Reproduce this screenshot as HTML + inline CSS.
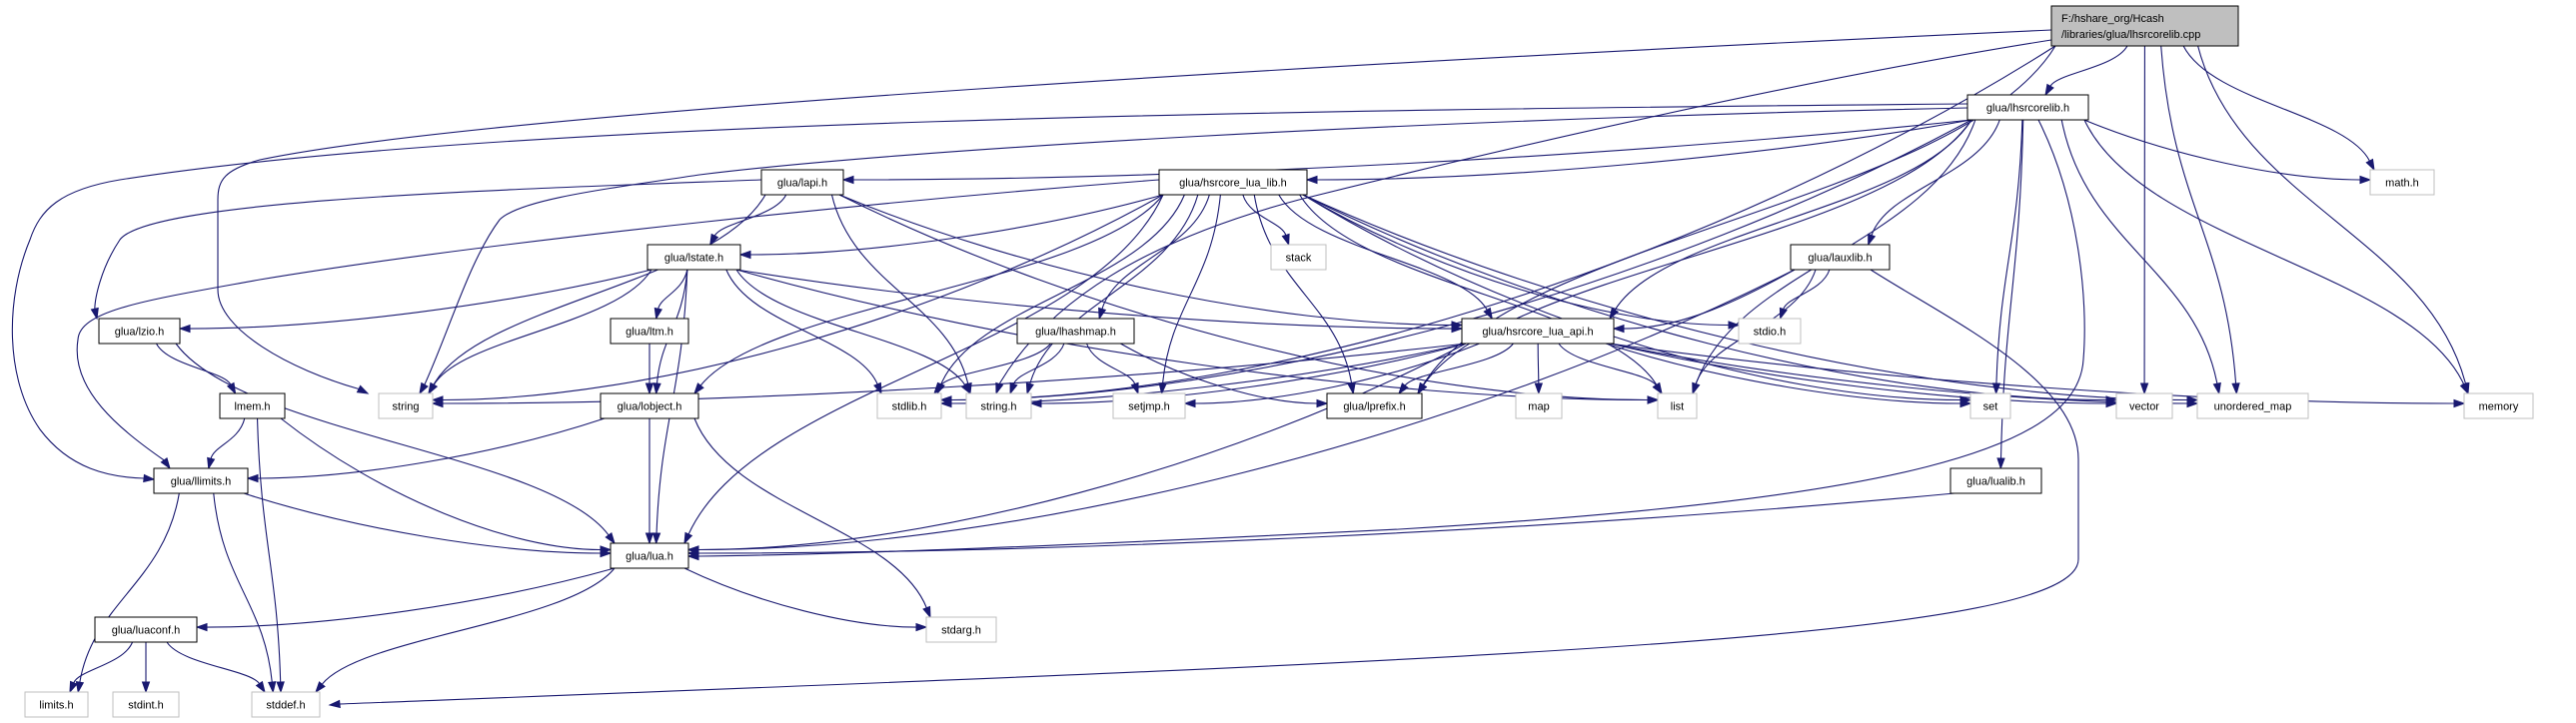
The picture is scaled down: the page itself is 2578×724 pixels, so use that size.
<!DOCTYPE html>
<html><head><meta charset="utf-8"><style>
html,body{margin:0;padding:0;background:#fff;}
svg{display:block;}
text{font-family:"Liberation Sans",sans-serif;font-size:11px;fill:#000;}
</style></head><body>
<svg id="g" width="2578" height="724" viewBox="0 0 2578 724" xmlns="http://www.w3.org/2000/svg">
<g id="edges" fill="none" stroke="#191970" stroke-width="1.1"></g>
<g id="arrows" fill="#191970" stroke="#191970"></g>
<g id="nodes">
<rect x="2053" y="6" width="187" height="40" fill="#bfbfbf" stroke="#000"/>
<text x="2063" y="22">F:/hshare_org/Hcash</text>
<text x="2063" y="38">/libraries/glua/lhsrcorelib.cpp</text>

<rect x="1969" y="95" width="121" height="25" fill="#fff" stroke="#000"/><text x="2029.5" y="111.5" text-anchor="middle">glua/lhsrcorelib.h</text>
<rect x="762" y="170" width="82" height="25" fill="#fff" stroke="#000"/><text x="803" y="186.5" text-anchor="middle">glua/lapi.h</text>
<rect x="1160" y="170" width="148" height="25" fill="#fff" stroke="#000"/><text x="1234" y="186.5" text-anchor="middle">glua/hsrcore_lua_lib.h</text>
<rect x="2372" y="170" width="64" height="25" fill="#fff" stroke="#bfbfbf"/><text x="2404" y="186.5" text-anchor="middle">math.h</text>

<rect x="648" y="245" width="93" height="25" fill="#fff" stroke="#000"/><text x="694.5" y="261.5" text-anchor="middle">glua/lstate.h</text>
<rect x="1272" y="245" width="55" height="25" fill="#fff" stroke="#bfbfbf"/><text x="1299.5" y="261.5" text-anchor="middle">stack</text>
<rect x="1792" y="245" width="99" height="25" fill="#fff" stroke="#000"/><text x="1841.5" y="261.5" text-anchor="middle">glua/lauxlib.h</text>

<rect x="99" y="319" width="81" height="25" fill="#fff" stroke="#000"/><text x="139.5" y="335.5" text-anchor="middle">glua/lzio.h</text>
<rect x="611" y="319" width="78" height="25" fill="#fff" stroke="#000"/><text x="650" y="335.5" text-anchor="middle">glua/ltm.h</text>
<rect x="1018" y="319" width="117" height="25" fill="#fff" stroke="#000"/><text x="1076.5" y="335.5" text-anchor="middle">glua/lhashmap.h</text>
<rect x="1463" y="319" width="152" height="25" fill="#fff" stroke="#000"/><text x="1539" y="335.5" text-anchor="middle">glua/hsrcore_lua_api.h</text>
<rect x="1740" y="319" width="62" height="25" fill="#fff" stroke="#bfbfbf"/><text x="1771" y="335.5" text-anchor="middle">stdio.h</text>

<rect x="220" y="394" width="65" height="25" fill="#fff" stroke="#000"/><text x="252.5" y="410.5" text-anchor="middle">lmem.h</text>
<rect x="379" y="394" width="54" height="25" fill="#fff" stroke="#bfbfbf"/><text x="406" y="410.5" text-anchor="middle">string</text>
<rect x="601" y="394" width="98" height="25" fill="#fff" stroke="#000"/><text x="650" y="410.5" text-anchor="middle">glua/lobject.h</text>
<rect x="878" y="394" width="64" height="25" fill="#fff" stroke="#bfbfbf"/><text x="910" y="410.5" text-anchor="middle">stdlib.h</text>
<rect x="967" y="394" width="65" height="25" fill="#fff" stroke="#bfbfbf"/><text x="999.5" y="410.5" text-anchor="middle">string.h</text>
<rect x="1114" y="394" width="72" height="25" fill="#fff" stroke="#bfbfbf"/><text x="1150" y="410.5" text-anchor="middle">setjmp.h</text>
<rect x="1328" y="394" width="95" height="25" fill="#fff" stroke="#000"/><text x="1375.5" y="410.5" text-anchor="middle">glua/lprefix.h</text>
<rect x="1517" y="394" width="46" height="25" fill="#fff" stroke="#bfbfbf"/><text x="1540" y="410.5" text-anchor="middle">map</text>
<rect x="1659" y="394" width="39" height="25" fill="#fff" stroke="#bfbfbf"/><text x="1678.5" y="410.5" text-anchor="middle">list</text>
<rect x="1972" y="394" width="40" height="25" fill="#fff" stroke="#bfbfbf"/><text x="1992" y="410.5" text-anchor="middle">set</text>
<rect x="2118" y="394" width="56" height="25" fill="#fff" stroke="#bfbfbf"/><text x="2146" y="410.5" text-anchor="middle">vector</text>
<rect x="2199" y="394" width="111" height="25" fill="#fff" stroke="#bfbfbf"/><text x="2254.5" y="410.5" text-anchor="middle">unordered_map</text>
<rect x="2466" y="394" width="69" height="25" fill="#fff" stroke="#bfbfbf"/><text x="2500.5" y="410.5" text-anchor="middle">memory</text>

<rect x="154" y="469" width="94" height="25" fill="#fff" stroke="#000"/><text x="201" y="485.5" text-anchor="middle">glua/llimits.h</text>
<rect x="1952" y="469" width="91" height="25" fill="#fff" stroke="#000"/><text x="1997.5" y="485.5" text-anchor="middle">glua/lualib.h</text>

<rect x="611" y="544" width="78" height="25" fill="#fff" stroke="#000"/><text x="650" y="560.5" text-anchor="middle">glua/lua.h</text>

<rect x="95" y="618" width="102" height="25" fill="#fff" stroke="#000"/><text x="146" y="634.5" text-anchor="middle">glua/luaconf.h</text>
<rect x="927" y="618" width="70" height="25" fill="#fff" stroke="#bfbfbf"/><text x="962" y="634.5" text-anchor="middle">stdarg.h</text>

<rect x="25" y="693" width="63" height="25" fill="#fff" stroke="#bfbfbf"/><text x="56.5" y="709.5" text-anchor="middle">limits.h</text>
<rect x="113" y="693" width="66" height="25" fill="#fff" stroke="#bfbfbf"/><text x="146" y="709.5" text-anchor="middle">stdint.h</text>
<rect x="252" y="693" width="68" height="25" fill="#fff" stroke="#bfbfbf"/><text x="286" y="709.5" text-anchor="middle">stddef.h</text>
</g>
</svg>
<script>
var N={
F:[2053,6,2240,46],core:[1969,95,2090,120],lapi:[762,170,844,195],lib:[1160,170,1308,195],math:[2372,170,2436,195],
lstate:[648,245,741,270],stack:[1272,245,1327,270],aux:[1792,245,1891,270],
lzio:[99,319,180,344],ltm:[611,319,689,344],hmap:[1018,319,1135,344],api:[1463,319,1615,344],stdio:[1740,319,1802,344],
lmem:[220,394,285,419],string:[379,394,433,419],lobject:[601,394,699,419],stdlib:[878,394,942,419],stringh:[967,394,1032,419],
setjmp:[1114,394,1186,419],lprefix:[1328,394,1423,419],map:[1517,394,1563,419],list:[1659,394,1698,419],set:[1972,394,2012,419],
vector:[2118,394,2174,419],umap:[2199,394,2310,419],memory:[2466,394,2535,419],
llimits:[154,469,248,494],lualib:[1952,469,2043,494],lua:[611,544,689,569],luaconf:[95,618,197,643],stdarg:[927,618,997,643],
limits:[25,693,88,718],stdint:[113,693,179,718],stddef:[252,693,320,718]};
var E=[
['F','core'],['F','stdlib'],['F','lprefix'],['F','math'],['F','vector'],['F','umap'],['F','memory'],
['core','lapi'],['core','lib'],['core','stdlib'],['core','api'],['core','aux'],['core','lprefix'],['core','list'],
['core','set'],['core','math'],['core','umap'],['core','memory'],['core','lualib'],
['lapi','lstate'],['lapi','string'],['lapi','stringh'],['lapi','api'],['lapi','list'],
['lib','lstate'],['lib','string'],['lib','stdlib'],['lib','stringh'],['lib','setjmp'],['lib','hmap'],['lib','lobject'],['lib','lua'],
['lib','stack'],['lib','lprefix'],['lib','api'],['lib','list'],['lib','set'],['lib','vector'],['lib','umap'],['lib','stdio'],
['lstate','lzio'],['lstate','ltm'],['lstate','lobject'],['lstate','lua'],['lstate','string'],['lstate','stringh'],['lstate','api'],['lstate','list'],['lstate','stdlib'],
['aux','stdio'],['aux','list'],['aux','lua'],['aux','api'],
['lzio','lmem'],['lzio','lua'],['ltm','lobject'],
['hmap','stdlib'],['hmap','stringh'],['hmap','setjmp'],['hmap','lprefix'],
['api','string'],['api','stdlib'],['api','stringh'],['api','setjmp'],['api','lprefix'],['api','map'],['api','list'],['api','set'],
['api','vector'],['api','umap'],['api','memory'],['api','lua'],
['lmem','llimits'],['lmem','lua'],['lmem','stddef'],
['lobject','llimits'],['lobject','lua'],['lobject','stdarg'],
['llimits','lua'],['llimits','limits'],['llimits','stddef'],
['lualib','lua'],['lua','luaconf'],['lua','stdarg'],['lua','stddef'],
['luaconf','limits'],['luaconf','stdint'],['luaconf','stddef']];
var C=[
 ['M2053,30 C1400,60 500,110 260,160 C225,170 218,180 218,200 L218,290 C218,330 290,370 360,390',[368,394]],
 ['M1969,104 C1300,110 500,120 120,180 C60,190 40,210 30,240 C5,300 5,380 40,430 C70,470 110,478 144,479',[154,480]],
 ['M1160,180 C900,200 500,240 260,280 C150,300 80,310 78,340 C70,390 120,430 165,462',[170,469]],
 ['M762,180 C500,190 150,200 120,240 C100,270 95,300 95,310',[97,319]],
 ['M1969,108 C1400,120 900,150 700,175 C600,190 520,200 500,220 C470,260 450,330 425,385',[420,394]],
 ['M2053,40 C1800,80 1500,150 1300,200 C1150,240 1050,300 1000,385',[997,394]],
 ['M1872,270 C1950,320 2080,380 2080,460 L2080,560 C2080,640 1500,660 340,705',[330,706]],
 ['M2040,120 C2080,200 2090,300 2085,360 C2080,450 1900,500 1400,530 C1000,550 800,556 700,557',[689,557]]
];
var ns='http://www.w3.org/2000/svg',ge=document.getElementById('edges'),ga=document.getElementById('arrows');
function cl(v,a,b){return Math.max(a,Math.min(b,v));}
function arrow(tx,ty,ux,uy){
 var bx=tx-ux*10,by=ty-uy*10;
 var a=document.createElementNS(ns,'polygon');
 a.setAttribute('points',tx+','+ty+' '+(bx-uy*3.5)+','+(by+ux*3.5)+' '+(bx+uy*3.5)+','+(by-ux*3.5));
 ga.appendChild(a);
}
E.forEach(function(e){
 var s=N[e[0]],t=N[e[1]];
 var scx=(s[0]+s[2])/2,tcx=(t[0]+t[2])/2,sw=(s[2]-s[0])/2,tw=(t[2]-t[0])/2;
 var sx=scx+cl((tcx-scx)*0.15,-sw+4,sw-4),sy=s[3];
 var tx=tcx+cl((scx-tcx)*0.15,-tw+4,tw-4),ty=t[1];
 var dy=ty-sy, dx=tx-sx;
 var c1x=sx+dx*0.15,c1y=sy+dy*0.45,c2x=tx-dx*0.15,c2y=ty-dy*0.45;
 if(Math.abs(dx)>2.6*Math.max(dy,10)){
   var right=scx>tcx; tx=right?t[2]:t[0]; ty=(t[1]+t[3])/2+cl((s[3]-t[1])*0.05,-6,6);
   c1x=sx+dx*0.3; c1y=sy+(ty-sy)*0.6; c2x=tx+(right?1:-1)*Math.abs(dx)*0.3; c2y=ty;
 }
 var ux=tx-c2x,uy=ty-c2y,L=Math.sqrt(ux*ux+uy*uy)||1; ux/=L;uy/=L;
 var bx=tx-ux*10,by=ty-uy*10;
 var p=document.createElementNS(ns,'path');
 p.setAttribute('d','M'+sx+','+sy+' C'+c1x+','+c1y+' '+c2x+','+c2y+' '+bx+','+by);
 ge.appendChild(p);
 arrow(tx,ty,ux,uy);
});
C.forEach(function(c){
 var p=document.createElementNS(ns,'path');
 var m=c[0].match(/-?[\d.]+/g).map(Number);var n=m.length;
 var ex=m[n-2],ey=m[n-1];
 var tx=c[1][0],ty=c[1][1];
 var ux=tx-ex,uy=ty-ey,L=Math.sqrt(ux*ux+uy*uy)||1;ux/=L;uy/=L;
 var bx=tx-ux*10,by=ty-uy*10;
 p.setAttribute('d',c[0].replace(/[-\d.]+,[-\d.]+$/,bx+','+by));
 ge.appendChild(p);
 arrow(tx,ty,ux,uy);
});
</script>
</body></html>
